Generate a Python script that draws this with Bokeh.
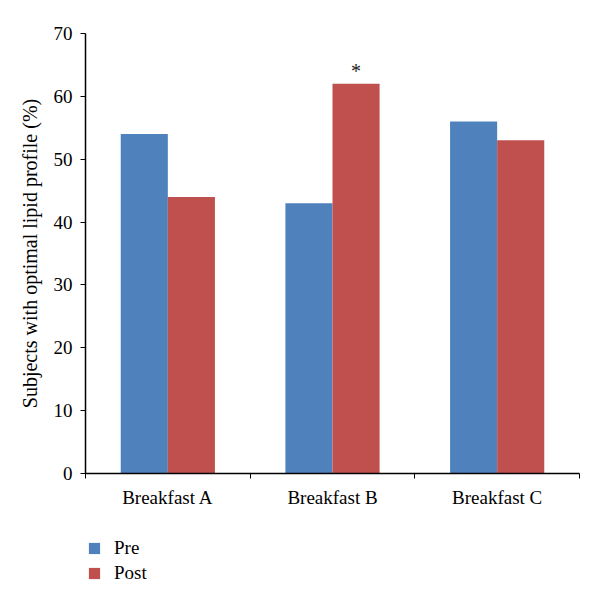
from bokeh.plotting import figure
from bokeh.layouts import column
from bokeh.models import ColumnDataSource, FixedTicker, Range1d, Legend, LegendItem
from bokeh.core.properties import value
from bokeh.embed import file_html
from bokeh.resources import INLINE

categories = ["Breakfast A", "Breakfast B", "Breakfast C"]
series_names = ["Pre", "Post"]
pre = [54, 43, 56]
post = [44, 62, 53]
significant = ["", "*", ""]
y_ticks = [0, 10, 20, 30, 40, 50, 60, 70]

FONT = "Liberation Serif"
BLUE = "#4F81BD"
RED = "#C0504D"

centers = [i + 0.5 for i in range(len(categories))]
bw = 0.286
off = 0.143

src = ColumnDataSource(dict(
    xpre=[c - off for c in centers],
    xpost=[c + off for c in centers],
    pre=pre, post=post, sig=significant,
))

p = figure(width=592, height=535, output_backend="svg", toolbar_location=None,
           x_range=Range1d(0, 3), y_range=Range1d(0, 70),
           min_border_left=85, min_border_right=13, min_border_top=33, min_border_bottom=62)
p.outline_line_color = None
p.xgrid.visible = False
p.ygrid.visible = False

p.vbar(x="xpre", top="pre", width=bw, source=src, fill_color=BLUE, line_color=None)
p.vbar(x="xpost", top="post", width=bw, source=src, fill_color=RED, line_color=None)

p.text(x="xpost", y="post", text="sig", source=src, text_align="center", text_baseline="middle",
       y_offset=-13, text_font=value(FONT), text_font_size="20px", text_color="#222222")

# x axis: ticks at category boundaries (minor), labels at centers (major)
xa = p.xaxis[0]
xa.ticker = FixedTicker(ticks=centers, minor_ticks=list(range(len(categories) + 1)))
xa.major_label_overrides = {c: cat for c, cat in zip(centers, categories)}
xa.major_tick_out = 0
xa.major_tick_in = 0
xa.minor_tick_out = 5
xa.minor_tick_in = 0
xa.minor_tick_line_color = "black"
xa.axis_line_color = "black"
xa.axis_line_width = 1.5
xa.major_label_text_font = FONT
xa.major_label_text_font_size = "19px"
xa.major_label_text_color = "black"
xa.major_label_standoff = 8

ya = p.yaxis[0]
ya.ticker = FixedTicker(ticks=y_ticks)
ya.minor_tick_line_color = None
ya.major_tick_out = 5
ya.major_tick_in = 0
ya.axis_line_color = "black"
ya.axis_line_width = 1.5
ya.major_label_text_font = FONT
ya.major_label_text_font_size = "19px"
ya.major_label_text_color = "black"
ya.major_label_standoff = 8
ya.axis_label = "Subjects with optimal lipid profile (%)"
ya.axis_label_text_font = FONT
ya.axis_label_text_font_size = "20px"
ya.axis_label_text_font_style = "normal"
ya.axis_label_text_color = "black"
ya.axis_label_standoff = 10

# legend panel below the chart (its bars lie outside its own visible range)
lf = figure(width=592, height=62, output_backend="svg", toolbar_location=None,
            x_range=Range1d(100, 101), y_range=Range1d(100, 101),
            min_border_left=84, min_border_right=0, min_border_top=0, min_border_bottom=0)
lf.axis.visible = False
lf.xgrid.visible = False
lf.ygrid.visible = False
lf.outline_line_color = None
lr_pre = lf.vbar(x="xpre", top="pre", width=bw, source=src, fill_color=BLUE, line_color=None)
lr_post = lf.vbar(x="xpost", top="post", width=bw, source=src, fill_color=RED, line_color=None)

legend = Legend(items=[LegendItem(label=series_names[0], renderers=[lr_pre]),
                       LegendItem(label=series_names[1], renderers=[lr_post])],
                location="top_left", orientation="vertical",
                label_text_font=FONT, label_text_font_size="19px", label_text_color="black",
                glyph_width=14, glyph_height=14, spacing=3, padding=0, margin=2,
                label_standoff=13, border_line_color=None, background_fill_alpha=0)
lf.add_layout(legend, "center")

layout = column(p, lf, spacing=0)
open("out.html", "w").write(file_html(layout, INLINE))
